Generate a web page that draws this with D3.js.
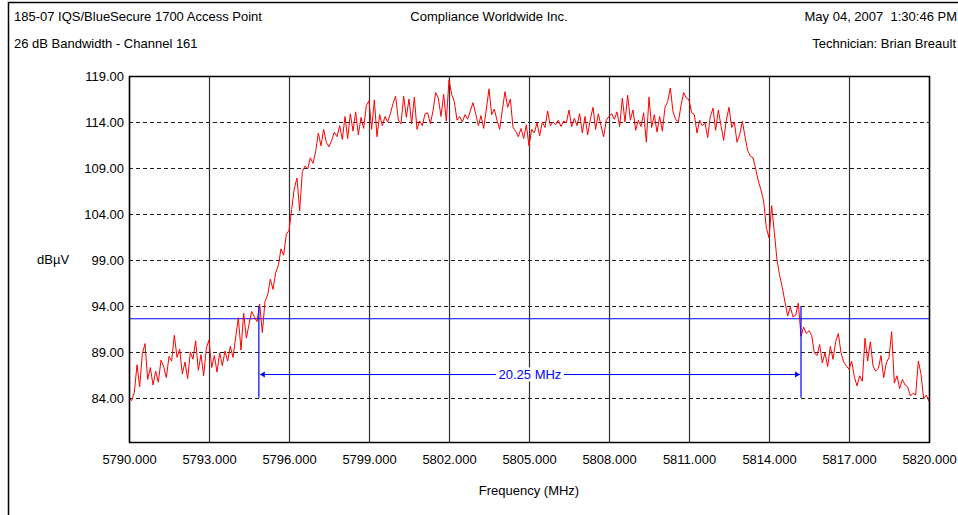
<!DOCTYPE html>
<html>
<head>
<meta charset="utf-8">
<script src="https://cdn.jsdelivr.net/npm/d3@7"></script>
<style>
  body { margin: 0; background: white; }
  text { font-family: 'Liberation Sans', Arial, sans-serif; font-size: 13px; }
</style>
</head>
<body>
<div id="chart"></div>
<script>
// sweep settings
var startFreq = 5790.0;
var stepFreq = 0.1;

// trace, dBuV, one value per 0.1 MHz
var trace = [
  84.0, 83.7, 84.6, 87.6, 85.2, 88.8, 89.9, 86.0, 87.3, 85.4,
  86.9, 85.7, 88.1, 87.4, 86.2, 88.5, 88.0, 90.8, 88.4, 89.3,
  86.6, 87.9, 86.1, 89.0, 88.2, 90.2, 87.0, 88.7, 86.4, 89.4,
  90.3, 87.3, 88.6, 86.8, 88.9, 87.5, 89.1, 88.0, 89.6, 88.4,
  90.6, 92.7, 89.2, 93.2, 90.5, 92.0, 93.4, 92.8, 92.3, 94.2,
  91.1, 94.5, 95.2, 96.9, 95.8, 97.6, 98.4, 100.2, 99.5, 101.8,
  102.2, 104.5, 106.8, 107.9, 104.3, 108.6, 109.2, 108.9, 110.1, 109.5,
  110.8, 112.8, 111.4, 113.2, 111.8, 111.3, 112.0, 112.9, 112.4, 113.6,
  112.1, 114.6, 112.2, 114.9, 113.0, 115.1, 112.6, 114.5, 113.3, 115.8,
  116.3, 113.2, 116.4, 112.4, 114.8, 113.6, 114.6, 114.0, 114.9, 116.0,
  116.8, 114.2, 113.8, 116.8, 114.5, 116.5, 113.8, 116.7, 113.2, 114.1,
  113.6, 114.9, 115.0, 113.8, 115.2, 117.2, 116.6, 114.6, 117.0, 114.1,
  118.6, 117.0, 116.2, 114.2, 114.6, 114.0, 114.8, 114.3, 115.2, 116.1,
  114.9, 113.6, 114.7, 113.3, 115.4, 117.6, 114.8, 115.4, 114.2, 113.2,
  115.3, 117.3, 115.6, 116.5, 113.4, 113.0, 112.4, 113.3, 112.2, 113.7,
  111.4, 113.2, 112.8, 113.9, 112.5, 114.0, 113.4, 115.2, 113.6, 114.0,
  113.7, 114.2, 113.5, 114.1, 113.9, 115.3, 113.5, 114.4, 113.6, 114.9,
  112.8, 114.6, 112.6, 114.3, 115.6, 113.2, 114.9, 113.6, 112.4, 114.2,
  114.6, 114.9, 114.3, 115.1, 113.5, 116.6, 114.0, 116.9, 114.2, 115.3,
  113.1, 114.2, 113.5, 115.0, 111.8, 116.7, 113.4, 114.8, 112.9, 114.6,
  113.0, 115.6, 116.2, 117.7, 115.1, 114.3, 114.0, 115.8, 117.2, 116.6,
  116.4, 115.0, 114.8, 112.8, 114.2, 113.6, 113.9, 112.3, 114.6, 115.5,
  113.1, 115.3, 113.6, 112.0, 114.2, 115.6, 113.4, 114.0, 111.8, 112.6,
  114.1, 112.4, 110.9, 110.3, 110.1, 108.9, 107.6, 106.6, 105.4, 102.5,
  101.4, 104.9, 102.0, 99.0, 97.3, 96.0, 94.4, 92.9, 93.9, 92.8,
  93.0, 94.3, 90.7, 91.7, 91.0, 91.3, 90.8, 88.9, 88.6, 89.8,
  87.8, 88.9, 87.4, 89.6, 88.2, 90.1, 91.0, 88.9, 87.9, 87.5,
  87.1, 88.0, 86.3, 85.3, 86.4, 85.8, 90.5, 88.0, 90.1, 87.5,
  86.9, 87.2, 88.6, 86.2, 87.8, 88.4, 91.2, 85.6, 86.4, 85.0,
  86.0, 85.4, 85.2, 84.2, 84.5, 84.3, 88.0, 86.6, 83.9, 84.3,
  83.6
];

var xTicks = [5790, 5793, 5796, 5799, 5802, 5805, 5808, 5811, 5814, 5817, 5820];
var yTicks = [84, 89, 94, 99, 104, 109, 114, 119];

// 26 dB down markers
var refLevel = 92.6;
var markerFreqs = [5794.87, 5815.2];
var markerTop = 94;
var markerBottom = 84;
var arrowLevel = 86.6;
var bandwidthLabel = '20.25 MHz';

var headerLeft = ['185-07 IQS/BlueSecure 1700 Access Point', '26 dB Bandwidth - Channel 161'];
var headerCenter = 'Compliance Worldwide Inc.';
var headerRight = ['May 04, 2007  1:30:46 PM', 'Technician: Brian Breault'];

function render(){
  var width = 958, height = 515;
  var plot = {'left': 129, 'top': 76, 'right': 929, 'bottom': 442};

  var svg = d3.select('#chart')
    .append('svg')
    .attr('width', width)
    .attr('height', height);

  svg.append('rect')
    .attr('width', width)
    .attr('height', height)
    .attr('fill', 'white');

  // outer frame (runs off the right and bottom)
  svg.append('rect')
    .attr('x', 8.5)
    .attr('y', 2.5)
    .attr('width', 1000)
    .attr('height', 600)
    .attr('fill', 'none')
    .attr('stroke', 'black')
    .attr('stroke-width', 1.5);

  svg.append('text').attr('x', 14).attr('y', 21).text(headerLeft[0]);
  svg.append('text').attr('x', 14).attr('y', 48).text(headerLeft[1]);
  svg.append('text').attr('x', 489).attr('y', 21).attr('text-anchor', 'middle').text(headerCenter);
  svg.append('text').attr('x', 957).attr('y', 21).attr('text-anchor', 'end')
    .style('white-space', 'pre').text(headerRight[0]);
  svg.append('text').attr('x', 956).attr('y', 48).attr('text-anchor', 'end').text(headerRight[1]);

  var x = d3.scaleLinear()
    .domain([5790, 5820])
    .range([plot.left, plot.right]);

  var y = d3.scaleLinear()
    .domain([79.2, 119])
    .range([plot.bottom, plot.top]);

  // vertical grid
  svg.append('g')
    .selectAll('line')
    .data(xTicks)
    .enter()
    .append('line')
    .attr('x1', function(d) { return Math.round(x(d)) + 0.5; })
    .attr('x2', function(d) { return Math.round(x(d)) + 0.5; })
    .attr('y1', plot.top)
    .attr('y2', plot.bottom)
    .attr('stroke', '#303030')
    .attr('stroke-width', 1.2);

  // horizontal dashed grid
  svg.append('g')
    .selectAll('line')
    .data(yTicks.filter(function(d) { return d < 119; }))
    .enter()
    .append('line')
    .attr('x1', plot.left)
    .attr('x2', plot.right)
    .attr('y1', function(d) { return Math.round(y(d)) + 0.5; })
    .attr('y2', function(d) { return Math.round(y(d)) + 0.5; })
    .attr('stroke', '#202020')
    .attr('stroke-width', 1.2)
    .attr('stroke-dasharray', '4,3');

  // axis labels via d3 axes, with the domain lines hidden
  var xAxis = d3.axisBottom(x)
    .tickValues(xTicks)
    .tickFormat(d3.format('.3f'))
    .tickSize(0)
    .tickPadding(13);

  svg.append('g')
    .attr('transform', 'translate(0,' + plot.bottom + ')')
    .call(xAxis)
    .call(function(g) { g.select('.domain').remove(); })
    .selectAll('text')
    .attr('fill', 'black')
    .style('font-size', '13px')
    .style('font-family', "'Liberation Sans', Arial, sans-serif");

  var yAxis = d3.axisLeft(y)
    .tickValues(yTicks)
    .tickFormat(d3.format('.2f'))
    .tickSize(0)
    .tickPadding(5);

  svg.append('g')
    .attr('transform', 'translate(' + plot.left + ',0)')
    .call(yAxis)
    .call(function(g) { g.select('.domain').remove(); })
    .selectAll('text')
    .attr('fill', 'black')
    .style('font-size', '13px')
    .style('font-family', "'Liberation Sans', Arial, sans-serif");

  svg.append('text')
    .attr('x', 37)
    .attr('y', y(99) + 4)
    .text('dBµV');

  svg.append('text')
    .attr('x', 529)
    .attr('y', 495)
    .attr('text-anchor', 'middle')
    .text('Frequency (MHz)');

  // reference level line
  svg.append('line')
    .attr('x1', plot.left)
    .attr('x2', plot.right)
    .attr('y1', y(refLevel))
    .attr('y2', y(refLevel))
    .attr('stroke', '#0000ff')
    .attr('stroke-width', 1.2);

  // trace
  var line = d3.line()
    .x(function(d, i) { return x(startFreq + i * stepFreq); })
    .y(function(d) { return y(d); });

  svg.append('path')
    .datum(trace)
    .attr('d', line)
    .attr('fill', 'none')
    .attr('stroke', '#ff0000')
    .attr('stroke-width', 1);

  // bandwidth markers
  svg.append('g')
    .selectAll('line')
    .data(markerFreqs)
    .enter()
    .append('line')
    .attr('x1', function(d) { return x(d); })
    .attr('x2', function(d) { return x(d); })
    .attr('y1', y(markerTop))
    .attr('y2', y(markerBottom))
    .attr('stroke', '#0000ff')
    .attr('stroke-width', 1.2);

  var ax1 = x(markerFreqs[0]) + 1, ax2 = x(markerFreqs[1]) - 1, ay = Math.round(y(arrowLevel)) + 0.5;

  svg.append('line')
    .attr('x1', ax1)
    .attr('x2', ax2)
    .attr('y1', ay)
    .attr('y2', ay)
    .attr('stroke', '#0000ff')
    .attr('stroke-width', 1.2);

  svg.append('path')
    .attr('d', 'M' + ax1 + ',' + ay + 'l5,-3l0,6z' + 'M' + ax2 + ',' + ay + 'l-5,-3l0,6z')
    .attr('fill', '#0000ff');

  var mid = (x(markerFreqs[0]) + x(markerFreqs[1])) / 2;
  svg.append('rect')
    .attr('x', mid - 34)
    .attr('y', ay - 7)
    .attr('width', 68)
    .attr('height', 14)
    .attr('fill', 'white');

  svg.append('text')
    .attr('x', mid)
    .attr('y', ay + 4.5)
    .attr('text-anchor', 'middle')
    .attr('fill', '#0000ff')
    .text(bandwidthLabel);

  // plot frame
  svg.append('rect')
    .attr('x', plot.left + 0.5)
    .attr('y', plot.top + 0.5)
    .attr('width', plot.right - plot.left)
    .attr('height', plot.bottom - plot.top)
    .attr('fill', 'none')
    .attr('stroke', 'black')
    .attr('stroke-width', 1.5);
}

render();
</script>
</body>
</html>
